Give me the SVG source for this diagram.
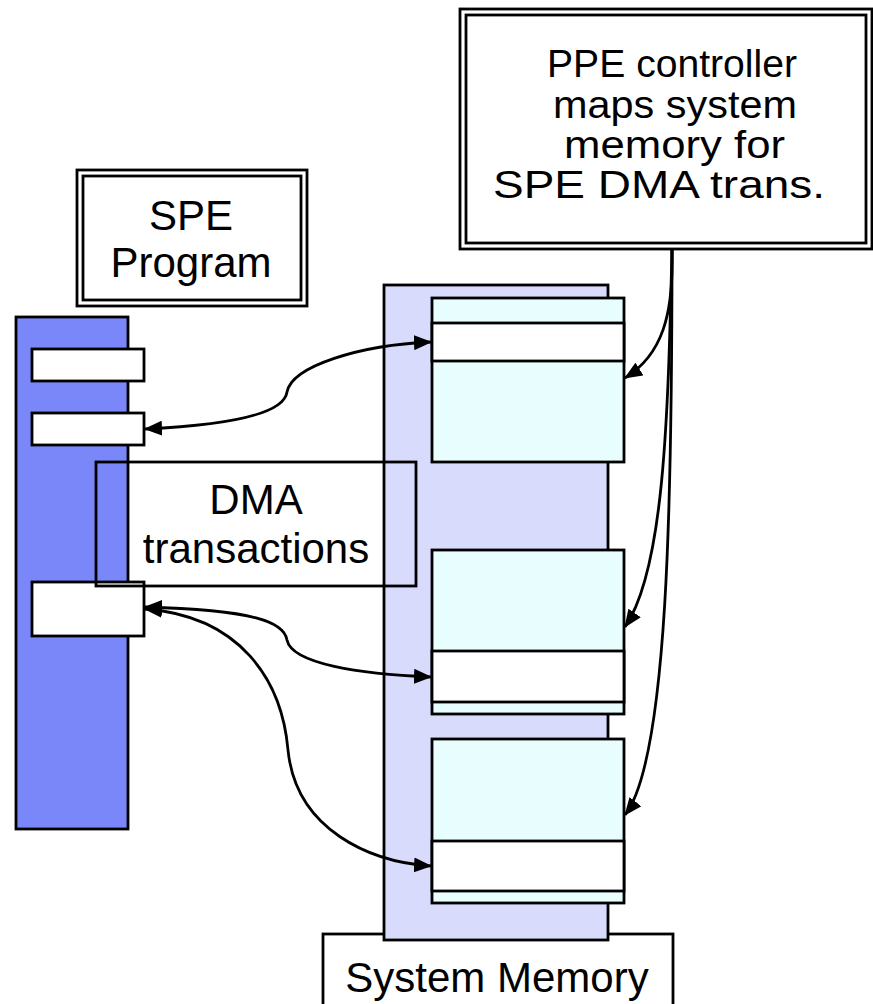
<svg xmlns="http://www.w3.org/2000/svg" width="873" height="1004" viewBox="0 0 873 1004">
  <style>
    .box { fill: #ffffff; stroke: #000000; stroke-width: 2.8; }
    .open { fill: none; stroke: #000000; stroke-width: 2.8; }
    .spe { fill: #7a87f8; stroke: #000000; stroke-width: 2.8; }
    .mem { fill: #d8dbfb; stroke: #000000; stroke-width: 2.8; }
    .blk { fill: #e8fefe; stroke: #000000; stroke-width: 2.8; }
    .lbl { font-family: "Liberation Sans", Arial, sans-serif; font-size: 42px; fill: #000000; text-anchor: middle; }
    .note { font-family: "Liberation Sans", Arial, sans-serif; font-size: 38px; fill: #000000; }
    .conn { fill: none; stroke: #000000; stroke-width: 2.8; }
  </style>
  <defs>
    <marker id="arrow" viewBox="0 0 18 15" refX="17" refY="7.5" markerWidth="18" markerHeight="15" markerUnits="userSpaceOnUse" orient="auto-start-reverse">
      <path d="M0,0 L18,7.5 L0,15 Z" fill="#000000"/>
    </marker>
  </defs>

  <rect width="873" height="1004" fill="#ffffff"/>

  <!-- System memory label box (sits under the memory column) -->
  <g id="system-memory-label">
    <rect class="box" x="323" y="934" width="350" height="80"/>
    <text class="lbl" x="497" y="992">System Memory</text>
  </g>

  <!-- System memory column with mapped regions -->
  <g id="system-memory">
    <rect class="mem" x="384" y="285" width="224" height="655"/>
  </g>
  <g id="mem-block-1">
    <rect class="blk" x="432" y="298" width="192" height="164"/>
    <rect class="box" x="432" y="323" width="192" height="38"/>
  </g>
  <g id="mem-block-2">
    <rect class="blk" x="432" y="550" width="192" height="164"/>
    <rect class="box" x="432" y="651" width="192" height="51"/>
  </g>
  <g id="mem-block-3">
    <rect class="blk" x="432" y="739" width="192" height="164"/>
    <rect class="box" x="432" y="841" width="192" height="50"/>
  </g>

  <!-- SPE local store column -->
  <g id="spe-local-store">
    <rect class="spe" x="16" y="317" width="112" height="512"/>
  </g>
  <g id="ls-buffer-1">
    <rect class="box" x="32" y="349" width="112" height="32"/>
  </g>
  <g id="ls-buffer-2">
    <rect class="box" x="32" y="413" width="112" height="32"/>
  </g>
  <g id="ls-buffer-3">
    <rect class="box" x="32" y="582" width="112" height="54"/>
  </g>

  <!-- DMA transactions label (unfilled frame) -->
  <g id="dma-transactions">
    <rect class="open" x="96" y="462" width="320" height="124"/>
    <text class="lbl" x="256" y="514">DMA</text>
    <text class="lbl" x="256" y="563">transactions</text>
  </g>

  <!-- SPE program title (double frame) -->
  <g id="spe-program">
    <rect class="box" x="77" y="170" width="230" height="136"/>
    <rect class="open" x="83" y="176" width="218" height="124"/>
    <text class="lbl" x="191" y="230">SPE</text>
    <text class="lbl" x="191" y="277">Program</text>
  </g>

  <!-- PPE controller note (double frame) -->
  <g id="ppe-controller">
    <rect class="box" x="460" y="9" width="412" height="240"/>
    <rect class="open" x="466" y="15" width="400" height="228"/>
    <text class="note" x="547" y="77" textLength="250" lengthAdjust="spacingAndGlyphs">PPE controller</text>
    <text class="note" x="553" y="118" textLength="244" lengthAdjust="spacingAndGlyphs">maps system</text>
    <text class="note" x="564" y="158" textLength="221" lengthAdjust="spacingAndGlyphs">memory for</text>
    <text class="note" x="493" y="198" textLength="332" lengthAdjust="spacingAndGlyphs">SPE DMA trans.</text>
  </g>

  <!-- Connectors -->
  <g id="connectors">
    <!-- DMA transfers between local store and system memory -->
    <path class="conn" d="M145,429 C 230,425 284,414 287,392 C 292,366 360,345 431,342" marker-start="url(#arrow)" marker-end="url(#arrow)"/>
    <path class="conn" d="M145,607 C 255,610 284,622 287,640 C 292,664 360,674 431,677" marker-start="url(#arrow)" marker-end="url(#arrow)"/>
    <path class="conn" d="M145,609 C 240,616 282,680 288,750 C 296,830 370,862 431,866" marker-start="url(#arrow)" marker-end="url(#arrow)"/>
    <!-- PPE mappings into system memory -->
    <path class="conn" d="M672,249 C 674,315 662,355 625,378" marker-end="url(#arrow)"/>
    <path class="conn" d="M672,249 C 668,420 664,570 625,627" marker-end="url(#arrow)"/>
    <path class="conn" d="M672,249 C 672,500 668,760 625,815" marker-end="url(#arrow)"/>
  </g>
</svg>
